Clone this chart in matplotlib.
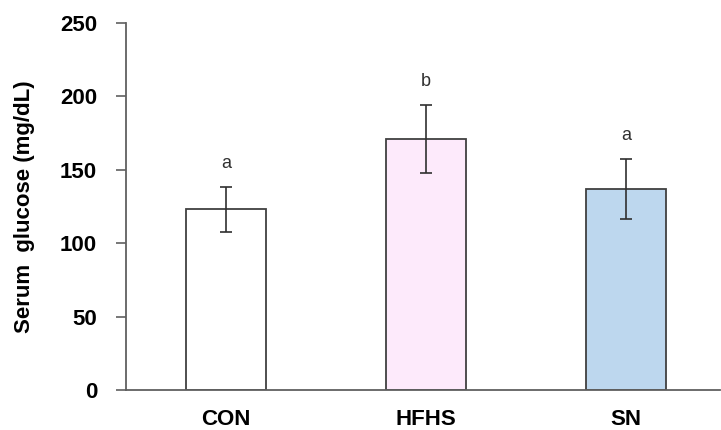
import numpy as np
import matplotlib.pyplot as plt

# serum glucose per group (mean, SD) and significance letters
groups = ['CON', 'HFHS', 'SN']
glucose = [123, 171, 137]
sd = [15.5, 23, 20.5]
letters = ['a', 'b', 'a']
colori = ['#FFFFFF', '#FDEAFB', '#BDD7EE']

plt.rcParams['font.family'] = ['Liberation Sans', 'DejaVu Sans']

fig = plt.figure(figsize=(7.21, 4.30), dpi=100)
ax = fig.add_axes([0.175, 0.093, 0.824, 0.8535])

x = np.arange(len(groups))
ax.bar(x, glucose, width=0.4, color=colori, edgecolor='#404040', linewidth=1.3, zorder=2)
ax.errorbar(x, glucose, yerr=sd, fmt='none', ecolor='#303030', elinewidth=1.2,
            capsize=4, capthick=1.2, zorder=3)

# lettere di significatività sopra le barre di errore
for i in range(len(groups)):
    ax.text(x[i], glucose[i] + sd[i] + 16, letters[i], ha='center', va='center',
            fontsize=13, color='#303030')

ax.set_xlim(-0.5, 2.47)
ax.set_ylim(0, 250)
ax.set_yticks([0, 50, 100, 150, 200, 250])
ax.set_xticks(x)
ax.set_xticklabels(groups, fontsize=16, fontweight='bold')
for lab in ax.get_yticklabels():
    lab.set_fontsize(16)
    lab.set_fontweight('bold')

ax.tick_params(axis='x', length=0, pad=14)
ax.tick_params(axis='y', length=7, width=1.2, color='#606060', pad=14)
ax.set_ylabel('Serum  glucose (mg/dL)', fontsize=16, fontweight='bold', labelpad=18)

for s in ['top', 'right']:
    ax.spines[s].set_visible(False)
for s in ['left', 'bottom']:
    ax.spines[s].set_color('#606060')
    ax.spines[s].set_linewidth(1.3)

fig.savefig('out.png', dpi=100)
